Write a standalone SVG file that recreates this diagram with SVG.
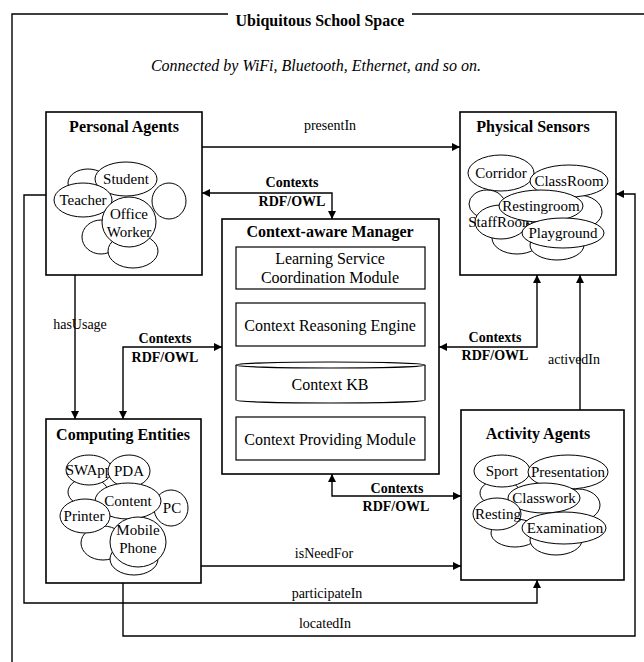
<svg xmlns="http://www.w3.org/2000/svg" width="644" height="662" viewBox="0 0 644 662">
  <style>
    .box { fill: #fff; stroke: #000; stroke-width: 1.6; }
    .mod { fill: #fff; stroke: #000; stroke-width: 1.2; }
    .el { fill: #fff; stroke: #000; stroke-width: 1; }
    .wire { fill: none; stroke: #000; stroke-width: 1.4; }
    text { font-family: "Liberation Serif", "Times New Roman", serif; fill: #000; text-anchor: middle; }
    .title { font-size: 16px; font-weight: bold; }
    .sub { font-size: 16px; font-style: italic; }
    .mt { font-size: 16px; }
    .et { font-size: 15px; }
    .lbl { font-size: 14px; }
    .ctx { font-size: 14px; font-weight: bold; }
  </style>
  <defs>
    <marker id="arrow" viewBox="0 0 10 10" refX="10" refY="5" markerWidth="9" markerHeight="8" markerUnits="userSpaceOnUse" orient="auto-start-reverse">
      <path d="M0,0 L10,5 L0,10 z" fill="#000"/>
    </marker>
  </defs>
  <rect width="644" height="662" fill="#fff"/>

  <!-- outer frame with title -->
  <g id="frame">
    <path class="wire" d="M228,14 H12 V670 M412,14 H650"/>
    <text class="title" x="320" y="26">Ubiquitous School Space</text>
    <text class="sub" x="316" y="71">Connected by WiFi, Bluetooth, Ethernet, and so on.</text>
  </g>

  <!-- connectors -->
  <g id="connectors" class="wire">
    <path d="M202,147 H460" marker-end="url(#arrow)"/>
    <path d="M332,219 V193 H202" marker-start="url(#arrow)" marker-end="url(#arrow)"/>
    <path d="M75,275 V419" marker-end="url(#arrow)"/>
    <path d="M123,419 V347 H222" marker-start="url(#arrow)" marker-end="url(#arrow)"/>
    <path d="M537,275 V347 H439" marker-start="url(#arrow)" marker-end="url(#arrow)"/>
    <path d="M580,410 V275" marker-end="url(#arrow)"/>
    <path d="M332,474 V496 H461" marker-start="url(#arrow)" marker-end="url(#arrow)"/>
    <path d="M201,566 H461" marker-end="url(#arrow)"/>
    <path d="M46,195 H24 V603 H537 V580" marker-end="url(#arrow)"/>
    <path d="M123,583 V636 H635 V194 H616" marker-end="url(#arrow)"/>
  </g>
  <g id="connector-labels">
    <text class="lbl" x="330" y="130">presentIn</text>
    <text class="ctx" x="292" y="187">Contexts</text>
    <text class="ctx" x="292" y="206">RDF/OWL</text>
    <text class="lbl" x="80" y="329">hasUsage</text>
    <text class="ctx" x="165" y="343">Contexts</text>
    <text class="ctx" x="165" y="362">RDF/OWL</text>
    <text class="ctx" x="495" y="342">Contexts</text>
    <text class="ctx" x="495" y="360">RDF/OWL</text>
    <text class="lbl" x="574" y="364">activedIn</text>
    <text class="ctx" x="397" y="493">Contexts</text>
    <text class="ctx" x="396" y="511">RDF/OWL</text>
    <text class="lbl" x="324" y="558">isNeedFor</text>
    <text class="lbl" x="327" y="598">participateIn</text>
    <text class="lbl" x="325" y="628">locatedIn</text>
  </g>

  <!-- Personal Agents -->
  <g id="personal-agents">
    <rect class="box" x="46" y="112" width="156" height="163"/>
    <text class="title" x="124" y="132">Personal Agents</text>
    <ellipse class="el" cx="88" cy="183" rx="20" ry="14"/>
    <ellipse class="el" cx="169" cy="201" rx="17" ry="18"/>
    <ellipse class="el" cx="101" cy="237" rx="19" ry="17"/>
    <ellipse class="el" cx="133" cy="251" rx="25" ry="17"/>
    <ellipse class="el" cx="126" cy="179" rx="31" ry="17"/>
    <text class="et" x="126" y="184">Student</text>
    <ellipse class="el" cx="83" cy="200" rx="29" ry="17"/>
    <text class="et" x="83" y="205">Teacher</text>
    <ellipse class="el" cx="129" cy="222" rx="27" ry="25"/>
    <text class="et" x="129" y="219">Office</text>
    <text class="et" x="129" y="237">Worker</text>
  </g>

  <!-- Physical Sensors -->
  <g id="physical-sensors">
    <rect class="box" x="460" y="112" width="156" height="163"/>
    <text class="title" x="533" y="132">Physical Sensors</text>
    <ellipse class="el" cx="487" cy="204" rx="18" ry="14"/>
    <ellipse class="el" cx="578" cy="212" rx="24" ry="17"/>
    <ellipse class="el" cx="517" cy="238" rx="25" ry="16"/>
    <ellipse class="el" cx="557" cy="245" rx="27" ry="15"/>
    <ellipse class="el" cx="501" cy="173" rx="33" ry="18"/>
    <text class="et" x="501" y="178">Corridor</text>
    <ellipse class="el" cx="569" cy="181" rx="39" ry="16"/>
    <text class="et" x="569" y="186">ClassRoom</text>
    <ellipse class="el" cx="501" cy="222" rx="26" ry="17"/>
    <text class="et" x="501" y="227">StaffRoom</text>
    <ellipse class="el" cx="541" cy="206" rx="42" ry="16"/>
    <text class="et" x="541" y="211">Restingroom</text>
    <ellipse class="el" cx="563" cy="233" rx="41" ry="15"/>
    <text class="et" x="563" y="238">Playground</text>
  </g>

  <!-- Context-aware Manager -->
  <g id="context-aware-manager">
    <rect class="box" x="222" y="219" width="217" height="255"/>
    <text class="title" x="330" y="237">Context-aware Manager</text>
    <rect class="mod" x="236" y="247" width="189" height="42"/>
    <text class="mt" x="330" y="264">Learning Service</text>
    <text class="mt" x="330" y="283">Coordination Module</text>
    <rect class="mod" x="236" y="303" width="189" height="43"/>
    <text class="mt" x="330" y="331">Context Reasoning Engine</text>
    <path class="mod" d="M236,365 A94.5,3 0 0,1 425,365 V400 A94.5,3 0 0,1 236,400 Z"/>
    <path class="mod" fill="none" d="M236,365 A94.5,3 0 0,0 425,365"/>
    <text class="mt" x="330" y="390">Context KB</text>
    <rect class="mod" x="236" y="417" width="189" height="43"/>
    <text class="mt" x="330" y="445">Context Providing Module</text>
  </g>

  <!-- Computing Entities -->
  <g id="computing-entities">
    <rect class="box" x="46" y="419" width="155" height="164"/>
    <text class="title" x="123" y="440">Computing Entities</text>
    <ellipse class="el" cx="88" cy="492" rx="20" ry="14"/>
    <ellipse class="el" cx="103" cy="543" rx="22" ry="17"/>
    <ellipse class="el" cx="134" cy="559" rx="24" ry="16"/>
    <ellipse class="el" cx="89" cy="470" rx="23" ry="15"/>
    <text class="et" x="89" y="475">SWApp</text>
    <ellipse class="el" cx="129" cy="471" rx="21" ry="16"/>
    <text class="et" x="129" y="476">PDA</text>
    <ellipse class="el" cx="171" cy="508" rx="17" ry="18"/>
    <text class="et" x="172" y="513">PC</text>
    <ellipse class="el" cx="128" cy="501" rx="33" ry="18"/>
    <text class="et" x="128" y="506">Content</text>
    <ellipse class="el" cx="85" cy="516" rx="25" ry="17"/>
    <text class="et" x="84" y="521">Printer</text>
    <ellipse class="el" cx="138" cy="542" rx="28" ry="25"/>
    <text class="et" x="138" y="535">Mobile</text>
    <text class="et" x="138" y="553">Phone</text>
  </g>

  <!-- Activity Agents -->
  <g id="activity-agents">
    <rect class="box" x="461" y="410" width="163" height="170"/>
    <text class="title" x="538" y="439">Activity Agents</text>
    <ellipse class="el" cx="500" cy="493" rx="20" ry="13"/>
    <ellipse class="el" cx="578" cy="505" rx="22" ry="16"/>
    <ellipse class="el" cx="515" cy="533" rx="24" ry="14"/>
    <ellipse class="el" cx="556" cy="540" rx="26" ry="15"/>
    <ellipse class="el" cx="502" cy="471" rx="28" ry="16"/>
    <text class="et" x="502" y="476">Sport</text>
    <ellipse class="el" cx="568" cy="472" rx="40" ry="17"/>
    <text class="et" x="568" y="477">Presentation</text>
    <ellipse class="el" cx="544" cy="498" rx="36" ry="15"/>
    <text class="et" x="544" y="503">Classwork</text>
    <ellipse class="el" cx="497" cy="514" rx="24" ry="16"/>
    <text class="et" x="498" y="519">Resting</text>
    <ellipse class="el" cx="564" cy="528" rx="42" ry="16"/>
    <text class="et" x="565" y="533">Examination</text>
  </g>
</svg>
